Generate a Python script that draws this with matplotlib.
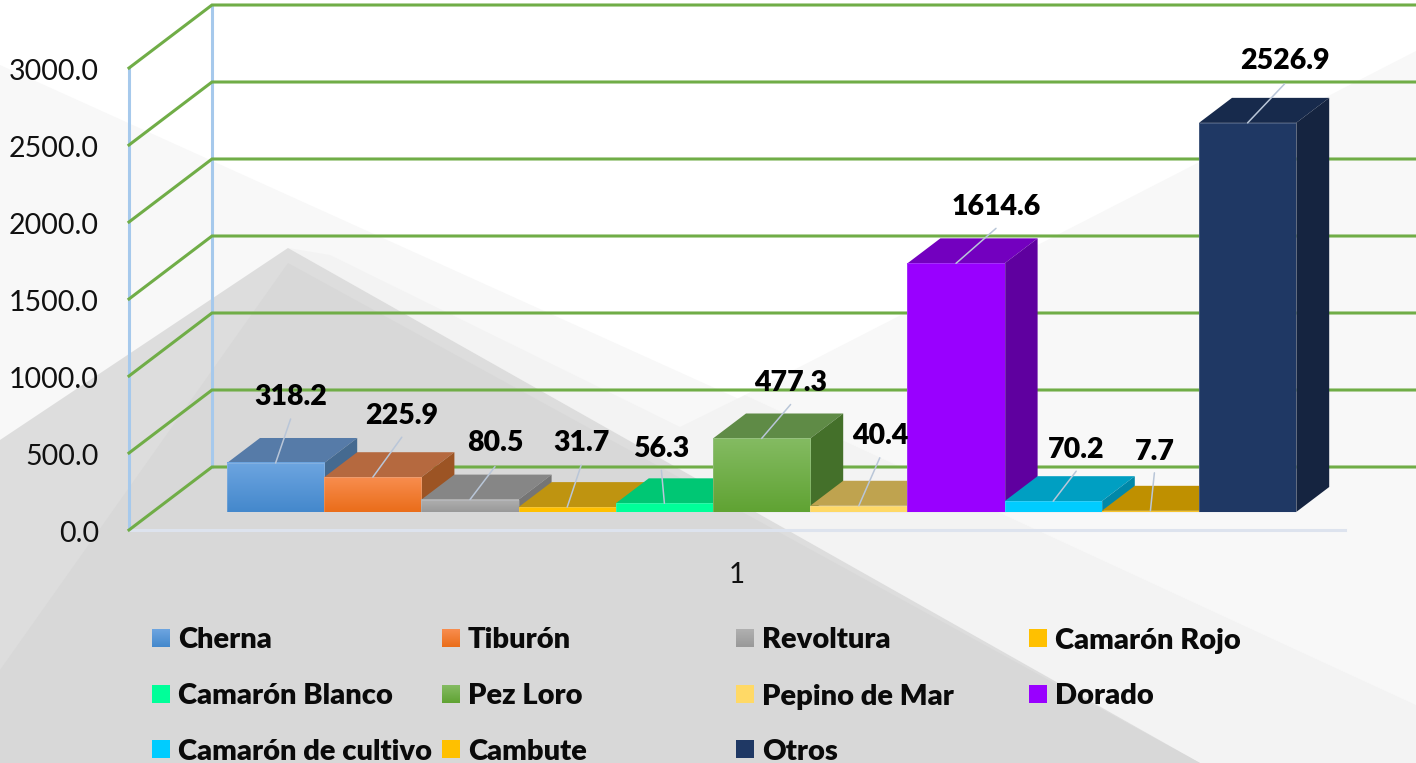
import numpy as np
import matplotlib
matplotlib.use("Agg")
import matplotlib.pyplot as plt
from matplotlib.patches import Polygon, Rectangle

# -------------------------------
# DATA
# -------------------------------
species = ["Cherna", "Tiburón", "Revoltura", "Camarón Rojo", "Camarón Blanco", "Pez Loro",
           "Pepino de Mar", "Dorado", "Camarón de cultivo", "Cambute", "Otros"]
values = [318.2, 225.9, 80.5, 31.7, 56.3, 477.3, 40.4, 1614.6, 70.2, 7.7, 2526.9]
y_ticks = [0, 500, 1000, 1500, 2000, 2500, 3000]
category = "1"

# -------------------------------
# STYLE
# -------------------------------
front_top = ["#6da5e0", "#f88d4e", "#b0b0b0", "#ffc000", "#00ff99", "#84bb62",
             "#ffd966", "#9900ff", "#00ccff", "#ffc000", "#1f3864"]
front_bot = ["#4488cc", "#ea6d1a", "#999999", "#ffc000", "#00ff99", "#60a333",
             "#ffd966", "#9900ff", "#00ccff", "#ffc000", "#1f3864"]
top_col = ["#567ba8", "#b5693f", "#868686", "#bf9410", "#00c774", "#5f8b46",
           "#bfa34f", "#7300bf", "#009fc2", "#bf9000", "#172a4c"]
side_col = ["#456a90", "#9c5424", "#757575", "#a67f00", "#00a862", "#44702a",
            "#a68f40", "#5f009f", "#0088a8", "#a67f00", "#152440"]

# leader line end and label centre, relative to the bar's top front centre (pixels)
line_off = [(15, 44), (29, 40), (25, 33), (14, 42), (-3, 33), (29, 34), (21, 48), (40, 35), (23, 30), (4, 38), (37, 39)]
label_off = [(15, 68), (29, 64), (25, 59), (14, 67), (-3, 57), (29, 58), (21, 72), (40, 59), (23, 54), (4, 61), (37, 64)]

legend_x = [152, 442, 736, 1029]
legend_y = [638, 694, 749]

PX_BAR = 97.2      # pixels per category unit
PX_VAL = 0.154     # pixels per value unit
X0, Y0 = 227, 512  # pixel of bar 0, value 0
DX, DY = 33 / PX_BAR, 25 / PX_VAL      # bar depth
WALL_X, WALL_Y = -98 / PX_BAR, -18 / PX_VAL  # front of the floor
BACK_X, BACK_Y = -15 / PX_BAR, 45 / PX_VAL   # back wall

plt.rcParams["font.family"] = ["Lato", "DejaVu Sans"]
fig = plt.figure(figsize=(14.16, 7.63), dpi=100)

# -------------------------------
# BACKGROUND SHAPES
# -------------------------------
bg = fig.add_axes([0, 0, 1, 1], zorder=0)
bg.set_xlim(0, 1416)
bg.set_ylim(763, 0)
bg.axis("off")
bg.add_patch(Rectangle((0, 0), 1416, 763, fc="#ffffff", ec="none"))
bg.add_patch(Polygon([(0, 65), (1416, 705), (1416, 763), (0, 763)], fc="#f8f8f8", ec="none"))
bg.add_patch(Polygon([(1416, 51), (745, 395), (1416, 705)], fc="#f8f8f8", ec="none"))
bg.add_patch(Polygon([(330, 255), (680, 427), (745, 395), (1416, 705), (1416, 763), (1200, 763), (288, 248)],
                     fc="#f3f3f3", ec="none"))
bg.add_patch(Polygon([(288, 248), (1200, 763), (0, 763), (0, 440)], fc="#dddddd", ec="none"))
bg.add_patch(Polygon([(288, 263), (1200, 763), (0, 763), (0, 670)], fc="#d8d8d8", ec="none"))

# -------------------------------
# CHART AXES
# -------------------------------
ax = fig.add_axes([0, 0, 1, 1], zorder=1)
ax.patch.set_visible(False)
ax.axis("off")
x_lim = (-X0 / PX_BAR, (1416 - X0) / PX_BAR)
y_lim = (-(763 - Y0) / PX_VAL, Y0 / PX_VAL)

# walls
green = "#70ad47"
blue = "#a6c9ec"
ax.plot([WALL_X, WALL_X], [WALL_Y, WALL_Y + y_ticks[-1]], color=blue, lw=2.2, zorder=1)
ax.plot([BACK_X, BACK_X], [BACK_Y, BACK_Y + y_ticks[-1]], color=blue, lw=2.2, zorder=1)
ax.plot([WALL_X, 1345 / PX_BAR + x_lim[0]], [WALL_Y, WALL_Y], color="#dde3ee", lw=2.2, zorder=1)
for t in y_ticks:
    ax.plot([WALL_X, BACK_X, x_lim[1]], [WALL_Y + t, BACK_Y + t, BACK_Y + t], color=green, lw=2.2, zorder=2,
            solid_joinstyle="miter")
    ax.text(WALL_X - 30 / PX_BAR, WALL_Y + t - 8, f"{t:.1f}", ha="right", va="center_baseline", fontsize=20.5, color="#111111")

# bars
for i, v in enumerate(values):
    z = 3 + i
    ax.bar(i, v, width=1, align="edge", color=front_bot[i], zorder=z + 0.5)
    ax.add_patch(Polygon([(i, v), (i + DX, v + DY), (i + 1 + DX, v + DY), (i + 1, v)],
                         fc=top_col[i], ec="none", zorder=z))
    ax.add_patch(Polygon([(i + 1, 0), (i + 1 + DX, DY), (i + 1 + DX, v + DY), (i + 1, v)],
                         fc=side_col[i], ec="none", zorder=z))
    if front_top[i] != front_bot[i]:
        c0 = np.array(matplotlib.colors.to_rgb(front_top[i]))
        c1 = np.array(matplotlib.colors.to_rgb(front_bot[i]))
        grad = np.linspace(0, 1, 64)[:, None, None] * (c1 - c0) + c0
        ax.imshow(grad, extent=(i, i + 1, 0, v), origin="upper", aspect="auto", zorder=z + 0.6)
    ax.bar(i, v, width=1, align="edge", fill=False, edgecolor="#d5dbe6", lw=0.5, alpha=0.3, zorder=z + 0.7)

# labels and leader lines
for i, v in enumerate(values):
    xc = i + 0.5
    ax.annotate("", xy=(xc, v), xytext=line_off[i], textcoords="offset pixels", zorder=30,
                xycoords="data", arrowprops=dict(arrowstyle="-", color="#b9c6d8", lw=1.1, shrinkA=0, shrinkB=0))
    ax.annotate(f"{v:.1f}", xy=(xc, v), xytext=label_off[i], textcoords="offset pixels",
                ha="center", va="center_baseline", fontsize=20.5, fontweight=800, color="black", zorder=31)

ax.text(5.24, -392, category, ha="center", va="center_baseline", fontsize=20, color="#111111")
ax.set_xlim(x_lim)
ax.set_ylim(y_lim)

# -------------------------------
# LEGEND
# -------------------------------
for i, name in enumerate(species):
    px = legend_x[i % 4]
    py = legend_y[i // 4]
    if front_top[i] != front_bot[i]:
        c0 = np.array(matplotlib.colors.to_rgb(front_top[i]))
        c1 = np.array(matplotlib.colors.to_rgb(front_bot[i]))
        grad = np.linspace(0, 1, 32)[:, None, None] * (c1 - c0) + c0
        bg.imshow(grad, extent=(px, px + 18, py + 9, py - 9), aspect="auto", zorder=5)
    else:
        bg.add_patch(Rectangle((px, py - 9), 18, 18, fc=front_bot[i], ec="none", zorder=5))
    bg.text(px + 26, py, name, ha="left", va="center_baseline", fontsize=21, fontweight=800, color="#0a0a0a", zorder=6)
bg.set_xlim(0, 1416)
bg.set_ylim(763, 0)

fig.savefig("out.png", dpi=100)
